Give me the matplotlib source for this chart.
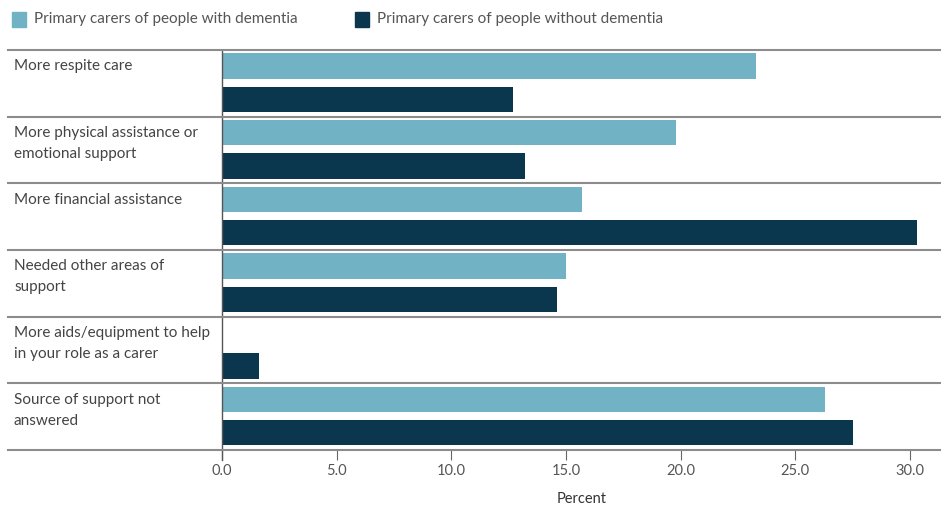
import matplotlib
matplotlib.use("Agg")
import matplotlib.pyplot as plt
from matplotlib import transforms
from matplotlib.patches import Rectangle

categories = [
    "More respite care",
    "More physical assistance or\nemotional support",
    "More financial assistance",
    "Needed other areas of\nsupport",
    "More aids/equipment to help\nin your role as a carer",
    "Source of support not\nanswered",
]
with_dementia = [23.3, 19.8, 15.7, 15.0, None, 26.3]
without_dementia = [12.7, 13.2, 30.3, 14.6, 1.6, 27.5]
series_names = ["Primary carers of people with dementia",
                "Primary carers of people without dementia"]
xticks = [0, 5, 10, 15, 20, 25, 30]

light = "#71b2c4"
dark = "#0a364e"
grey_txt = "#555555"
sep = "#8c8c8c"

plt.rcParams["font.family"] = ["Lato", "DejaVu Sans"]

W, H = 941, 505
fig = plt.figure(figsize=(W / 100, H / 100), dpi=100)
ax = fig.add_axes([222 / W, (H - 450) / H, (W - 222) / W, 400 / H])

n = len(categories)
for i in range(n):
    if with_dementia[i] is not None:
        ax.barh(i - 0.26, with_dementia[i], height=0.38, color=light)
    ax.barh(i + 0.24, without_dementia[i], height=0.38, color=dark)

ax.set_xlim(0, (W - 222) / 22.93)
ax.set_ylim(n - 0.5, -0.5)
ax.set_yticks([])
ax.set_xticks(xticks)
ax.set_xticklabels([f"{t:.1f}" for t in xticks], color=grey_txt, fontsize=10.5)
ax.tick_params(axis="x", length=7, width=0.8, color="#666666", pad=3)
for s in ax.spines.values():
    s.set_visible(False)
ax.axvline(0, color="#555555", lw=1, ymin=-0.025, ymax=1, clip_on=False)
ax.set_xlabel("Percent", fontsize=10.5, color="#333333", labelpad=10)

# band separators running under the labels too
tr = transforms.blended_transform_factory(fig.transFigure, ax.transData)
for k in range(n + 1):
    ax.plot([8 / W, 1], [k - 0.5, k - 0.5], transform=tr, color=sep, lw=1.5,
            clip_on=False, zorder=3)
for i, lab in enumerate(categories):
    ax.text(14 / W, i - 0.5 + 0.14, lab, transform=tr, ha="left", va="top",
            fontsize=11, color="#444444", linespacing=1.65)

# legend
for x0, col, name in [(12, light, series_names[0]), (355, dark, series_names[1])]:
    fig.patches.append(Rectangle((x0 / W, 1 - 27 / H), 14 / W, 15 / H,
                                 transform=fig.transFigure, color=col))
    fig.text((x0 + 22) / W, 1 - 19.5 / H, name, ha="left", va="center",
             fontsize=11, color=grey_txt)

fig.savefig("out.png", dpi=100)
